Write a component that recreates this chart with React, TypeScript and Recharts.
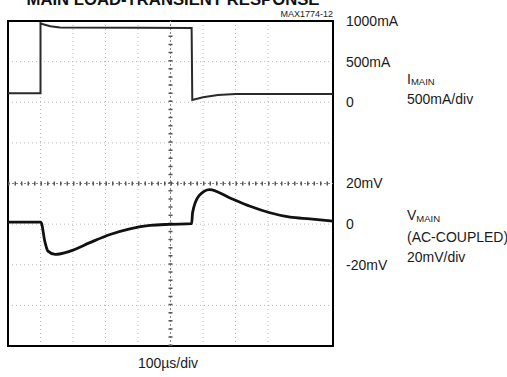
import React from 'react';
import { LineChart, Line, XAxis, YAxis, CartesianGrid, ReferenceLine, ReferenceArea } from 'recharts';

// time axis, 100us/div, 10 divisions
const timeTicks = [0, 100, 200, 300, 400, 500, 600, 700, 800, 900, 1000];
// vertical graticule, 8 divisions
const divTicks = [0, 1, 2, 3, 4, 5, 6, 7, 8];
const currentTicks = [0, 500, 1000];
const voltageTicks = [-20, 0, 20];

// I_MAIN trace (mA)
const iTime = [0, 100, 100, 108, 130, 160, 400, 565, 567, 600, 646, 700, 1000];
const iMain = [110, 110, 972, 960, 935, 920, 918, 915, 28, 62, 90, 102, 102];

// V_MAIN trace, AC-coupled (mV)
const vTime = [0, 101, 114, 123, 145, 191, 252, 314, 375, 437, 498, 565, 568, 588, 620, 683, 745, 806, 868, 929, 1000];
const vMain = [1.0, 1.0, -9.0, -13.3, -14.9, -13.3, -9.1, -5.1, -2.3, -0.6, -0.1, 0.2, 5.7, 14.0, 17.0, 12.9, 8.8, 5.6, 3.4, 2.6, 1.5];

const iData = iTime.map((t, k) => ({ t, i: iMain[k] }));
const vData = vTime.map((t, k) => ({ t, v: vMain[k] }));

const font = 'Liberation Sans, Arial, Helvetica, sans-serif';
const tickStyle = { fontFamily: font, fontSize: 14, fill: '#1a1a1a' };

export default function App() {
  return (
    <div style={{ position: 'absolute', left: 0, top: 0, width: 507, height: 377, overflow: 'hidden', background: '#fff' }}>
      <div style={{ position: 'absolute', left: 0, top: 0 }}>
        <LineChart width={507} height={377} margin={{ top: 21, right: 172, bottom: 31, left: 8 }}>
          <XAxis xAxisId="t" dataKey="t" type="number" domain={[0, 1000]} ticks={timeTicks} hide allowDataOverflow />
          <YAxis yAxisId="grid" type="number" domain={[0, 8]} ticks={divTicks} hide allowDataOverflow />
          <YAxis
            yAxisId="i"
            orientation="right"
            type="number"
            domain={[-3000, 1000]}
            ticks={currentTicks}
            interval={0}
            width={1}
            axisLine={false}
            tickLine={false}
            tickMargin={7}
            tick={tickStyle}
            tickFormatter={(v: number) => (v === 0 ? '0' : `${v}mA`)}
            allowDataOverflow
          />
          <YAxis
            yAxisId="v"
            orientation="right"
            type="number"
            domain={[-60, 100]}
            ticks={voltageTicks}
            interval={0}
            width={1}
            axisLine={false}
            tickLine={false}
            tickMargin={6}
            tick={tickStyle}
            tickFormatter={(v: number) => (v === 0 ? '0' : `${v}mV`)}
            allowDataOverflow
          />
          <CartesianGrid xAxisId="t" yAxisId="grid" stroke="#b8b8b8" strokeDasharray="1 3" />
          {/* center crosshair with minor ticks */}
          <ReferenceLine xAxisId="t" yAxisId="grid" y={4} stroke="#888" strokeDasharray="2 2" />
          <ReferenceLine xAxisId="t" yAxisId="grid" y={4} stroke="#555" strokeWidth={4} strokeDasharray="1.5 5" />
          <ReferenceLine xAxisId="t" yAxisId="grid" x={500} stroke="#888" strokeDasharray="2 2" />
          <ReferenceLine xAxisId="t" yAxisId="grid" x={500} stroke="#555" strokeWidth={4} strokeDasharray="1.5 6.63" />
          <ReferenceArea xAxisId="t" yAxisId="grid" x1={0} x2={1000} y1={0} y2={8} fill="none" stroke="#000" strokeWidth={2} />
          <Line xAxisId="t" yAxisId="i" data={iData} dataKey="i" type="linear" stroke="#2a2a2a" strokeWidth={2} dot={false} isAnimationActive={false} />
          <Line xAxisId="t" yAxisId="v" data={vData} dataKey="v" type="monotone" stroke="#111" strokeWidth={2.8} dot={false} isAnimationActive={false} />
        </LineChart>
      </div>
      <svg width={507} height={377} style={{ position: 'absolute', left: 0, top: 0, pointerEvents: 'none' }}>
        <text x={173} y={5} textAnchor="middle" fontFamily={font} fontWeight="bold" fontSize={16.7} fill="#111">
          MAIN LOAD-TRANSIENT RESPONSE
        </text>
        <text x={333} y={17} textAnchor="end" fontFamily={font} fontSize={9} fill="#222">MAX1774-12</text>
        <g fontFamily={font} fill="#1a1a1a">
          <text x={407} y={84} fontSize={14}>I<tspan fontSize={9.5} dy={1}>MAIN</tspan></text>
          <text x={407} y={104} fontSize={14}>500mA/div</text>
          <text x={407} y={220} fontSize={14}>V<tspan fontSize={9.5} dy={1.5}>MAIN</tspan></text>
          <text x={407} y={242} fontSize={14}>(AC-COUPLED)</text>
          <text x={407} y={262} fontSize={14}>20mV/div</text>
          <text x={168} y={368} fontSize={14} textAnchor="middle">100µs/div</text>
        </g>
      </svg>
    </div>
  );
}
